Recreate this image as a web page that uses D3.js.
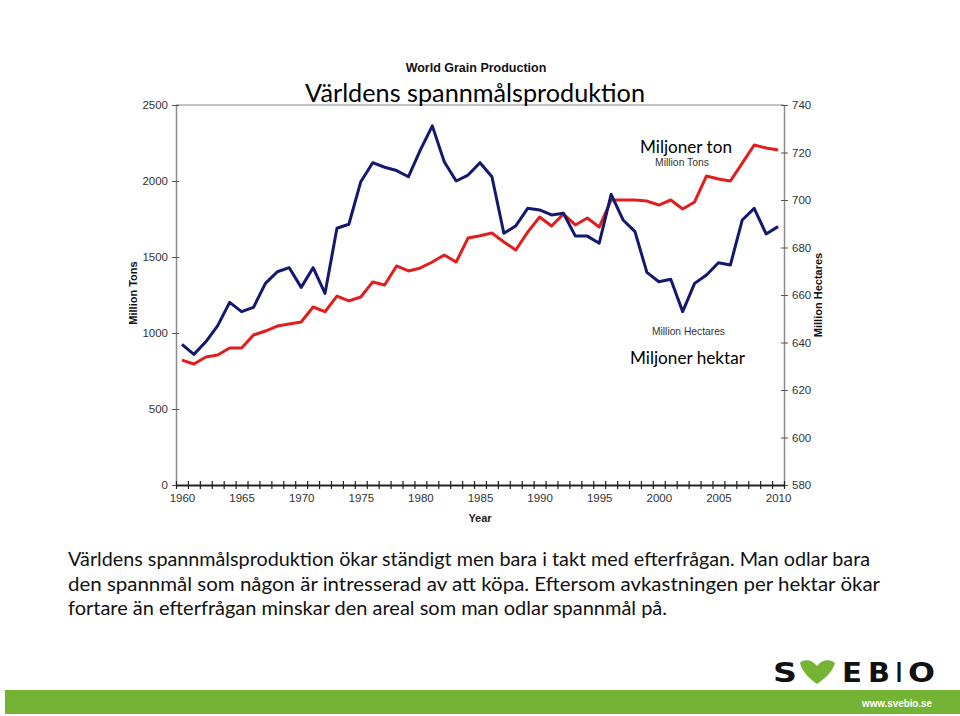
<!DOCTYPE html>
<html><head><meta charset="utf-8">
<script src="https://cdn.jsdelivr.net/npm/d3@7"></script>
<style>body{margin:0;background:#fff}svg{display:block}</style>
</head><body><svg id="c" width="960" height="716"></svg>
<script>
const years = [1960,1961,1962,1963,1964,1965,1966,1967,1968,1969,1970,1971,1972,1973,1974,1975,1976,1977,1978,1979,1980,1981,1982,1983,1984,1985,1986,1987,1988,1989,1990,1991,1992,1993,1994,1995,1996,1997,1998,1999,2000,2001,2002,2003,2004,2005,2006,2007,2008,2009,2010];
// Million Tons (left axis)
const tons = [822,796,842,855,901,901,987,1013,1046,1059,1072,1171,1140,1243,1211,1237,1336,1316,1441,1408,1428,1467,1513,1467,1625,1640,1658,1599,1546,1664,1763,1704,1783,1711,1757,1697,1875,1875,1875,1868,1842,1875,1816,1862,2033,2013,2000,2118,2237,2217,2204];
// Million Hectares (right axis)
const hectares = [639.2,635.0,640.3,647.1,656.9,653.0,654.8,664.9,669.8,671.5,663.2,671.5,660.7,688.1,689.8,707.7,715.7,713.8,712.4,709.8,721.1,731.2,716.1,708.0,710.5,715.7,709.8,686.0,689.1,696.5,695.8,693.7,694.4,684.8,684.8,681.8,702.4,691.6,686.7,669.5,665.6,666.6,653.0,664.9,668.4,673.6,672.6,691.6,696.5,685.7,688.8];
const leftTicks = [0,500,1000,1500,2000,2500];
const rightTicks = [580,600,620,640,660,680,700,720,740];
const yearLabels = [1960,1965,1970,1975,1980,1985,1990,1995,2000,2005,2010];
const bodyLines = [
  "Världens spannmålsproduktion ökar ständigt men bara i takt med efterfrågan. Man odlar bara",
  "den spannmål som någon är intresserad av att köpa. Eftersom avkastningen per hektar ökar",
  "fortare än efterfrågan minskar den areal som man odlar spannmål på."
];

const svg = d3.select("#c");
const L = 176, R = 784, T = 105, B = 485;
const x = d3.scaleLinear().domain([years[0]-0.5, years[years.length-1]+0.5]).range([L, R]);
const yL = d3.scaleLinear().domain([0, 2500]).range([B, T]);
const yR = d3.scaleLinear().domain([580, 740]).range([B, T]);
const axisFont = "'Liberation Sans Narrow','Liberation Sans',Arial,sans-serif";
const fmt = d3.format("d");

// top border
svg.append("line").attr("x1", L).attr("x2", R).attr("y1", yL(2500)).attr("y2", yL(2500))
  .attr("stroke", "#8a8a8a").attr("stroke-width", 1.2);

// left axis
const gL = svg.append("g").attr("transform", `translate(${L},0)`)
  .call(d3.axisLeft(yL).tickValues(leftTicks).tickFormat(fmt).tickSize(4).tickSizeOuter(0).tickPadding(4));
gL.select(".domain").attr("stroke", "#8a8a8a").attr("stroke-width", 1.5);
gL.selectAll(".tick line").attr("x1", 3).attr("x2", -4).attr("stroke", "#555");
gL.selectAll(".tick text").attr("font-family", axisFont).attr("font-size", 11.5).attr("fill", "#333");

// right axis
const gR = svg.append("g").attr("transform", `translate(${R},0)`)
  .call(d3.axisRight(yR).tickValues(rightTicks).tickFormat(fmt).tickSize(4).tickSizeOuter(0).tickPadding(4));
gR.select(".domain").attr("stroke", "#8a8a8a").attr("stroke-width", 1.5);
gR.selectAll(".tick line").attr("x1", -3).attr("x2", 4).attr("stroke", "#555");
gR.selectAll(".tick text").attr("font-family", axisFont).attr("font-size", 11.5).attr("fill", "#333");

// bottom axis: tick marks at category boundaries
const bounds = years.map(y => y - 0.5).concat([years[years.length-1] + 0.5]);
const gB = svg.append("g").attr("transform", `translate(0,${B})`)
  .call(d3.axisBottom(x).tickValues(bounds).tickFormat("").tickSize(4).tickSizeOuter(0));
gB.select(".domain").attr("stroke", "#222").attr("stroke-width", 2);
gB.selectAll(".tick line").attr("y1", -4).attr("y2", 4).attr("stroke", "#222").attr("stroke-width", 1.2);
const gB2 = svg.append("g").attr("transform", `translate(0,${B})`)
  .call(d3.axisBottom(x).tickValues(yearLabels).tickFormat(fmt).tickSize(0).tickPadding(9));
gB2.select(".domain").remove();
gB2.selectAll(".tick text").attr("font-family", axisFont).attr("font-size", 11.5).attr("fill", "#333");

// axis titles
svg.append("text").attr("x", 480).attr("y", 522).attr("text-anchor", "middle")
  .attr("font-family", "'Liberation Sans',Arial,sans-serif").attr("font-weight", "bold").attr("font-size", 11).attr("fill", "#222").text("Year");
svg.append("text").attr("transform", "translate(137,293) rotate(-90)").attr("text-anchor", "middle")
  .attr("font-family", "'Liberation Sans',Arial,sans-serif").attr("font-weight", "bold").attr("font-size", 11).attr("fill", "#111").text("Million Tons");
svg.append("text").attr("transform", "translate(822,295) rotate(-90)").attr("text-anchor", "middle")
  .attr("font-family", "'Liberation Sans',Arial,sans-serif").attr("font-weight", "bold").attr("font-size", 11).attr("fill", "#111").text("Million Hectares");

// lines
const tonsData = years.map((yr, i) => ({yr, v: tons[i]}));
const haData = years.map((yr, i) => ({yr, v: hectares[i]}));
svg.append("path").datum(tonsData)
  .attr("d", d3.line().x(d => x(d.yr)).y(d => yL(d.v)))
  .attr("fill", "none").attr("stroke", "#e01e1e").attr("stroke-width", 3).attr("stroke-linejoin", "round");
svg.append("path").datum(haData)
  .attr("d", d3.line().x(d => x(d.yr)).y(d => yR(d.v)))
  .attr("fill", "none").attr("stroke", "#14186e").attr("stroke-width", 3).attr("stroke-linejoin", "round");

// titles
svg.append("text").attr("x", 476).attr("y", 72).attr("text-anchor", "middle")
  .attr("font-family", "'Liberation Sans',Arial,sans-serif").attr("font-weight", "bold").attr("font-size", 12.5).attr("fill", "#111")
  .text("World Grain Production");
const cal = "Lato,'Open Sans',sans-serif";
svg.append("text").attr("x", 305).attr("y", 102).attr("textLength", 340).attr("lengthAdjust", "spacingAndGlyphs")
  .attr("font-family", cal).attr("font-size", 25).attr("fill", "#000").text("Världens spannmålsproduktion");
svg.append("text").attr("x", 640).attr("y", 153).attr("textLength", 92).attr("lengthAdjust", "spacingAndGlyphs")
  .attr("font-family", cal).attr("font-size", 17.5).attr("fill", "#000").text("Miljoner ton");
svg.append("text").attr("x", 655).attr("y", 166).attr("textLength", 54).attr("lengthAdjust", "spacingAndGlyphs")
  .attr("font-family", "'Liberation Sans',Arial,sans-serif").attr("font-size", 10).attr("fill", "#333").text("Million Tons");
svg.append("text").attr("x", 652).attr("y", 335).attr("textLength", 73).attr("lengthAdjust", "spacingAndGlyphs")
  .attr("font-family", "'Liberation Sans',Arial,sans-serif").attr("font-size", 10.3).attr("fill", "#333").text("Million Hectares");
svg.append("text").attr("x", 630).attr("y", 364).attr("textLength", 115).attr("lengthAdjust", "spacingAndGlyphs")
  .attr("font-family", cal).attr("font-size", 17.5).attr("fill", "#000").text("Miljoner hektar");

// body text
const lineEnds = [870, 880, 667];
bodyLines.forEach((t, i) => {
  svg.append("text").attr("x", 68).attr("y", 566 + i * 24.5)
    .attr("textLength", lineEnds[i] - 68).attr("lengthAdjust", "spacingAndGlyphs")
    .attr("font-family", cal).attr("font-size", 19.5).attr("fill", "#111").text(t);
});

// footer
const green = "#74b333";
svg.append("rect").attr("x", 5).attr("y", 690).attr("width", 955).attr("height", 24).attr("fill", green);
svg.append("text").attr("x", 862).attr("y", 707).attr("textLength", 70).attr("lengthAdjust", "spacingAndGlyphs")
  .attr("font-family", "'Liberation Sans',Arial,sans-serif").attr("font-weight", "bold").attr("font-size", 10.5).attr("fill", "#fff").text("www.svebio.se");

// logo
const logoFont = "'DejaVu Sans',sans-serif";
const letters = [{t:"S", x:773, w:24}, {t:"E", x:842, w:20}, {t:"B", x:868, w:22}, {t:"I", x:896, w:6}, {t:"O", x:908, w:27}];
letters.forEach(l => {
  svg.append("text").attr("x", l.x).attr("y", 682).attr("textLength", l.w).attr("lengthAdjust", "spacingAndGlyphs")
    .attr("font-family", logoFont).attr("font-weight", "bold").attr("font-size", 27).attr("fill", "#111").text(l.t);
});
svg.append("path")
  .attr("d", "M800,663 C803,659 812,659 817,666 C822,659 831,659 835,663 C833,672 823,680 817,684 C811,680 802,672 800,663 Z")
  .attr("fill", green);
</script>
</body></html>
